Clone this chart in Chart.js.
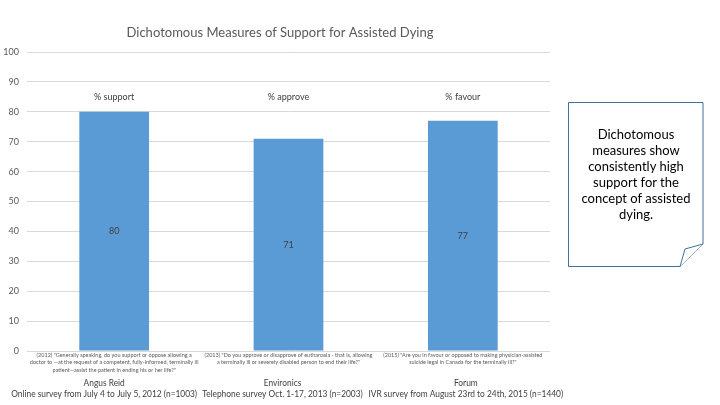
<!DOCTYPE html>
<html>
<head>
<meta charset="utf-8">
<script src="https://cdn.jsdelivr.net/npm/chart.js@4"></script>
<style>
  html, body { margin: 0; padding: 0; background: #ffffff; }
  #wrap { position: relative; width: 720px; height: 405px; }
  #c { position: absolute; left: 0; top: 0; }
  #note { position: absolute; left: 568px; top: 102px; width: 136px; height: 165px; }
  #note svg { position: absolute; left: 0; top: 0; }
  #note .txt { position: absolute; left: 0; top: 24px; width: 136px; text-align: center;
    font-family: Lato, "Open Sans", sans-serif; font-size: 13px; line-height: 16px; color: #000; }
</style>
</head>
<body>
<div id="wrap">
  <canvas id="c" width="720" height="405"></canvas>
  <div id="note">
    <svg width="136" height="165" viewBox="0 0 136 165">
      <path d="M0.5,0.5 H135 V142 L112,164.5 H0.5 Z" fill="#ffffff" stroke="#41719c" stroke-width="1"/>
      <path d="M135,142 L117,147 L112,164.5" fill="#ffffff" stroke="#41719c" stroke-width="1"/>
    </svg>
    <div class="txt">Dichotomous<br>measures show<br>consistently high<br>support for the<br>concept of assisted<br>dying.</div>
  </div>
</div>
<script>
const chartTitle = 'Dichotomous Measures of Support for Assisted Dying';
const categories = ['Angus Reid', 'Environics', 'Forum'];
const surveys = [
  'Online survey from July 4 to July 5, 2012 (n=1003)',
  'Telephone survey Oct. 1-17, 2013 (n=2003)',
  'IVR survey from August 23rd to 24th, 2015 (n=1440)'
];
const questions = [
  ['(2012) "Generally speaking, do you support or oppose allowing a',
   'doctor to \u2014at the request of a competent, fully-informed, terminally ill',
   'patient\u2014assist the patient in ending his or her life?"'],
  ['(2013) "Do you approve or disapprove of euthanasia - that is, allowing',
   'a terminally ill or severely disabled person to end their life?"'],
  ['(2015) "Are you in favour or opposed to making physician-assisted',
   'suicide legal in Canada for the terminally ill?"']
];
const measureLabels = ['% support', '% approve', '% favour'];
const values = [80, 71, 77];
const yTicks = [0, 10, 20, 30, 40, 50, 60, 70, 80, 90, 100];

const FONT = 'Lato, "Open Sans", sans-serif';
// horizontal nudges (px) of the source/survey label blocks, as in the original slide
const NAME_SHIFT = [-10, -6, 3];

function narrowText(ctx, text, x, y, ratio) {
  const w = ctx.measureText(text).width;
  ctx.fillText(text, x, y, w * ratio);
}

const annotate = {
  id: 'annotate',
  afterDatasetsDraw(chart) {
    const ctx = chart.ctx;
    const x = chart.scales.x, y = chart.scales.y;
    ctx.save();
    ctx.textAlign = 'center';
    ctx.textBaseline = 'middle';
    ctx.fillStyle = '#595959';
    ctx.font = '14px ' + FONT;
    narrowText(ctx, chartTitle, 280, 32, 0.93);
    categories.forEach((cat, i) => {
      const cx = x.getPixelForValue(i);
      ctx.fillStyle = '#404040';
      ctx.font = '9px ' + FONT;
      ctx.fillText(measureLabels[i], cx, y.getPixelForValue(85));
      ctx.fillText(String(values[i]), cx, y.getPixelForValue(values[i] / 2));
      ctx.fillStyle = '#595959';
      ctx.font = '5.5px ' + FONT;
      questions[i].forEach((ln, k) => ctx.fillText(ln, cx, 355 + k * 7.5));
      ctx.fillStyle = '#404040';
      ctx.font = '9.5px ' + FONT;
      const nx = cx + NAME_SHIFT[i];
      narrowText(ctx, cat, nx, 383, 0.88);
      narrowText(ctx, surveys[i], nx, 394, 0.88);
    });
    ctx.restore();
  }
};

new Chart(document.getElementById('c'), {
  type: 'bar',
  data: {
    labels: categories,
    datasets: [{ data: values, backgroundColor: '#5b9bd5', borderWidth: 0,
      barPercentage: 0.4, categoryPercentage: 1.0 }]
  },
  options: {
    responsive: false,
    animation: false,
    layout: { padding: { left: 0, right: 170, top: 52, bottom: 46 } },
    plugins: { legend: { display: false }, tooltip: { enabled: false }, title: { display: false } },
    scales: {
      x: {
        offset: true,
        grid: { display: false },
        border: { display: false },
        ticks: { display: false }
      },
      y: {
        min: 0, max: 100,
        afterFit(s) { s.width = 27; },
        afterBuildTicks(s) { s.ticks = yTicks.map(v => ({ value: v })); },
        grid: { color: '#d9d9d9', drawTicks: false, lineWidth: 1 },
        border: { display: false },
        ticks: { padding: 8, color: '#595959', font: { family: FONT, size: 9 } }
      }
    }
  },
  plugins: [annotate]
});
</script>
</body>
</html>
